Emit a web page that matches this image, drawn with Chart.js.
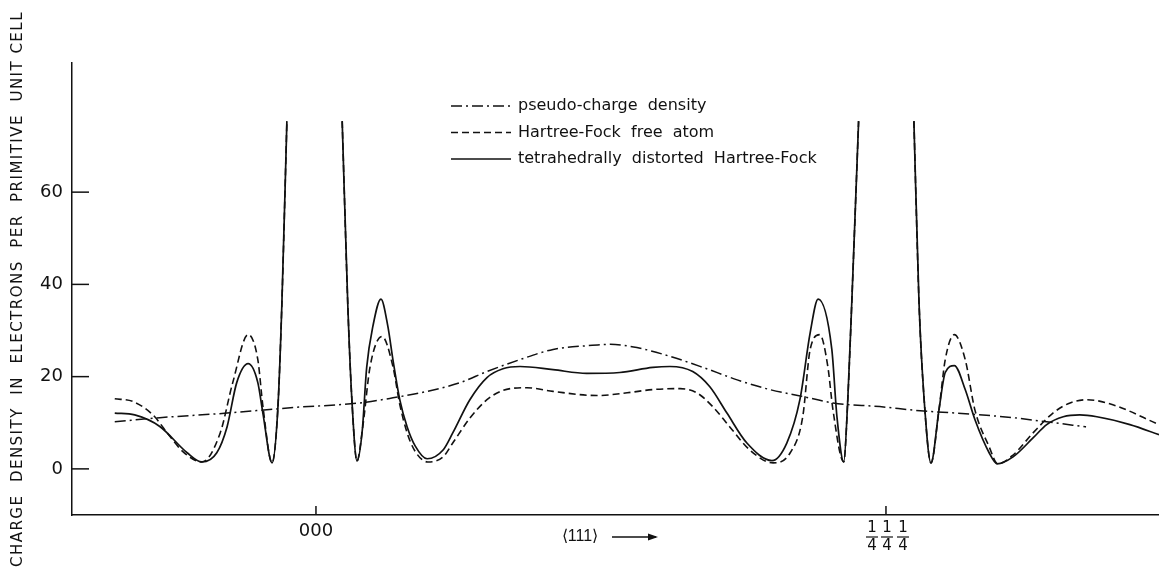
<!DOCTYPE html>
<html>
<head>
<meta charset="utf-8">
<script src="https://cdn.jsdelivr.net/npm/chart.js@4/dist/chart.umd.min.js"></script>
<style>
  body { margin: 0; background: #fff; }
  #wrap { width: 1159px; height: 574px; position: relative; }
</style>
</head>
<body>
<div id="wrap"><canvas id="chart"></canvas></div>
<script>
// x: position along <111>, 000 = 0, (1/4 1/4 1/4) = 100
// y: electrons per primitive unit cell; null = line broken (spike cut off)
const solidX = [-35.3, -31.8, -27.4, -22.6, -20.0, -17.4, -15.6, -13.9, -11.9, -10.2, -9.3, -7.7, -6.7, -6.0, -5.1,
  0,
  4.6, 5.6, 6.3, 7.2, 8.1, 8.9, 10.0, 11.4, 12.6, 13.5, 14.7, 16.0, 17.4, 19.5, 22.3, 24.0, 27.0, 30.0, 32.8, 35.8,
  41.6, 47.5, 53.3, 59.1, 62.1, 66.1, 69.1, 72.1, 75.6, 80.0, 82.6, 84.9, 86.7, 88.1, 90.5, 91.4, 92.6, 93.3, 94.0, 95.2,
  100,
  104.9, 105.8, 106.7, 107.9, 109.3, 110.4, 112.0, 113.9, 115.6, 118.1, 119.5, 122.3, 125.8, 128.2, 131.1, 134.0,
  137.0, 142.8, 147.9];
const solidY = [12.1, 11.7, 9.2, 3.5, 1.5, 3.5, 9.1, 18.7, 22.8, 18.7, 12, 1.3, 12.8, 35, 75.4,
  null,
  75.4, 35, 15, 1.7, 8, 22, 31, 36.8, 31, 23.7, 15, 9.1, 5, 2.2, 4.1, 7.8, 15, 19.8, 21.7, 22.2,
  21.5, 20.7, 20.9, 22, 22.2, 21.1, 17.8, 12.1, 5.6, 1.8, 5.6, 15, 29.5, 36.8, 25.9, 11.3, 1.5, 15, 36, 75.4,
  null,
  75.4, 36, 15, 1.3, 12.8, 20.9, 22.4, 17.2, 10.7, 3.5, 1.1, 2.6, 6.7, 9.6, 11.3, 11.7,
  11.3, 9.6, 7.4];

const freeX = [-35.3, -32.1, -28.6, -25.6, -23.3, -20.0, -16.8, -14.6, -11.9, -10.2, -9.3, -7.7, -6.7, -6.0, -5.1,
  0,
  4.6, 5.6, 6.3, 7.2, 8.2, 9.5, 11.6, 13.5, 14.7, 16.0, 17.4, 19.6, 22.3, 24.0, 27.0, 30.0, 32.8, 37.0, 41.6, 49.3,
  54.6, 59.1, 63.9, 66.8, 69.6, 72.6, 76.1, 80.2, 83.2, 85.4, 86.7, 88.4, 89.8, 90.7, 92.6, 93.3, 94.0, 95.2,
  100,
  104.9, 105.8, 106.7, 107.9, 109.3, 110.4, 112.0, 113.9, 115.6, 118.1, 119.6, 122.3, 125.8, 129.3, 132.3, 135.3,
  139.8, 147.9];
const freeY = [15.2, 14.6, 11.7, 7, 3.7, 1.5, 7.8, 18.7, 29.1, 23.7, 13.5, 1.3, 12.8, 35, 75.4,
  null,
  75.4, 35, 15, 1.7, 9, 22.2, 28.7, 22.2, 14, 7.8, 3.8, 1.5, 2.6, 5.6, 11, 15, 17, 17.6, 16.8, 15.9,
  16.5, 17.2, 17.4, 16.5, 13.5, 9.1, 4.1, 1.3, 3.5, 11.3, 25.9, 29.1, 22.2, 12.8, 1.5, 15, 36, 75.4,
  null,
  75.4, 36, 15, 1.3, 12.8, 23.7, 29.1, 23.7, 12.8, 4.8, 1.1, 3, 7.8, 12.1, 14.3, 15,
  13.9, 9.6];

const pseudoX = [-35.3, -27.4, -15.6, -4.0, 7.7, 13.5, 19.5, 25.3, 30.0, 35.8, 41.6, 47.5, 51.6, 56.3, 62.1,
  67.9, 73.9, 79.6, 85.4, 90.7, 98.9, 106.0, 114.7, 122.3, 128.2, 135.1];
const pseudoY = [10.2, 11.1, 12.1, 13.3, 14.3, 15.4, 16.8, 18.7, 21.1, 23.7, 25.9, 26.7, 27, 26.3, 24.4,
  22, 19.3, 17.2, 15.7, 14.3, 13.5, 12.6, 11.9, 11.1, 10.2, 9.1];

const seriesNames = ['pseudo-charge  density', 'Hartree-Fock  free  atom', 'tetrahedrally  distorted  Hartree-Fock'];
const yTicks = [0, 20, 40, 60];
const xTicks = [0, 100];
const yTitle = 'CHARGE  DENSITY  IN  ELECTRONS  PER  PRIMITIVE  UNIT CELL';

const toPts = (xs, ys) => xs.map((x, i) => ({ x: x, y: ys[i] }));
const dashes = [[11, 4, 2, 4], [7, 4], []];
const FONT = '"DejaVu Sans", "Liberation Sans", sans-serif';

const paperPlugin = {
  id: 'paper',
  afterDraw(chart) {
    const ctx = chart.ctx;
    const xs = chart.scales.x, ys = chart.scales.y;
    const area = chart.chartArea;
    ctx.save();
    ctx.strokeStyle = '#111';
    ctx.fillStyle = '#111';
    ctx.lineWidth = 1.5;
    // y ticks pointing inward
    yTicks.forEach(v => {
      const py = ys.getPixelForValue(v);
      ctx.beginPath();
      ctx.moveTo(area.left, py);
      ctx.lineTo(area.left + 17, py);
      ctx.stroke();
    });
    // x ticks pointing up
    xTicks.forEach(v => {
      const px = xs.getPixelForValue(v);
      ctx.beginPath();
      ctx.moveTo(px, area.bottom);
      ctx.lineTo(px, area.bottom - 9);
      ctx.stroke();
    });
    ctx.textAlign = 'center';
    ctx.textBaseline = 'middle';
    ctx.font = '18px ' + FONT;
    const p0 = xs.getPixelForValue(0);
    ctx.fillText('000', p0, area.bottom + 16);
    const p1 = xs.getPixelForValue(100);
    ctx.font = '15px ' + FONT;
    ctx.lineWidth = 1.2;
    [-14, 1, 17].forEach(d => {
      ctx.fillText('1', p1 + d, area.bottom + 13);
      ctx.fillText('4', p1 + d, area.bottom + 31);
      ctx.beginPath();
      ctx.moveTo(p1 + d - 6, area.bottom + 22);
      ctx.lineTo(p1 + d + 6, area.bottom + 22);
      ctx.stroke();
    });
    // <111> direction label with arrow
    ctx.font = '16px "Liberation Sans", sans-serif';
    ctx.fillText('\u27E8111\u27E9', 580, area.bottom + 22);
    ctx.lineWidth = 1.3;
    ctx.beginPath();
    ctx.moveTo(612, area.bottom + 22);
    ctx.lineTo(656, area.bottom + 22);
    ctx.stroke();
    ctx.beginPath();
    ctx.moveTo(658, area.bottom + 22);
    ctx.lineTo(648, area.bottom + 18.5);
    ctx.lineTo(648, area.bottom + 25.5);
    ctx.closePath();
    ctx.fill();
    // legend
    ctx.font = '16px ' + FONT;
    ctx.textAlign = 'left';
    seriesNames.forEach((name, i) => {
      const y = 106 + i * 26.5;
      ctx.setLineDash(dashes[i]);
      ctx.lineWidth = 1.5;
      ctx.beginPath();
      ctx.moveTo(451, y);
      ctx.lineTo(511, y);
      ctx.stroke();
      ctx.setLineDash([]);
      ctx.fillText(name, 518, y);
    });
    // rotated y-axis title, stretched to the axis span of the original
    ctx.font = '15px ' + FONT;
    const want = 556;
    const w = ctx.measureText(yTitle).width;
    ctx.letterSpacing = Math.max(0, (want - w) / yTitle.length) + 'px';
    ctx.translate(18, 289);
    ctx.rotate(-Math.PI / 2);
    ctx.textAlign = 'center';
    ctx.fillText(yTitle, 0, 0);
    ctx.restore();
  }
};

new Chart(document.getElementById('chart'), {
  type: 'line',
  data: {
    datasets: [
      { label: seriesNames[0], data: toPts(pseudoX, pseudoY), borderColor: '#111', borderWidth: 1.5, borderDash: dashes[0] },
      { label: seriesNames[1], data: toPts(freeX, freeY), borderColor: '#111', borderWidth: 1.6, borderDash: dashes[1] },
      { label: seriesNames[2], data: toPts(solidX, solidY), borderColor: '#111', borderWidth: 1.7 }
    ]
  },
  options: {
    responsive: true,
    maintainAspectRatio: false,
    animation: false,
    spanGaps: false,
    layout: { padding: { top: 63, right: 0, left: 0, bottom: 0 } },
    elements: {
      point: { radius: 0 },
      line: { cubicInterpolationMode: 'monotone', fill: false }
    },
    plugins: { legend: { display: false }, tooltip: { enabled: false } },
    scales: {
      x: {
        type: 'linear',
        min: -42.8,
        max: 147.9,
        afterFit: s => { s.height = 59; },
        afterBuildTicks: s => { s.ticks = xTicks.map(v => ({ value: v })); },
        grid: { display: false, drawTicks: false },
        border: { display: true, color: '#111', width: 1.5 },
        ticks: { display: false }
      },
      y: {
        min: -10,
        max: 88,
        afterFit: s => { s.width = 72; },
        afterBuildTicks: s => { s.ticks = yTicks.map(v => ({ value: v })); },
        grid: { display: false, drawTicks: false },
        border: { display: true, color: '#111', width: 1.5 },
        ticks: { padding: 9, color: '#111', font: { size: 18, family: FONT } }
      }
    }
  },
  plugins: [paperPlugin]
});
</script>
</body>
</html>
